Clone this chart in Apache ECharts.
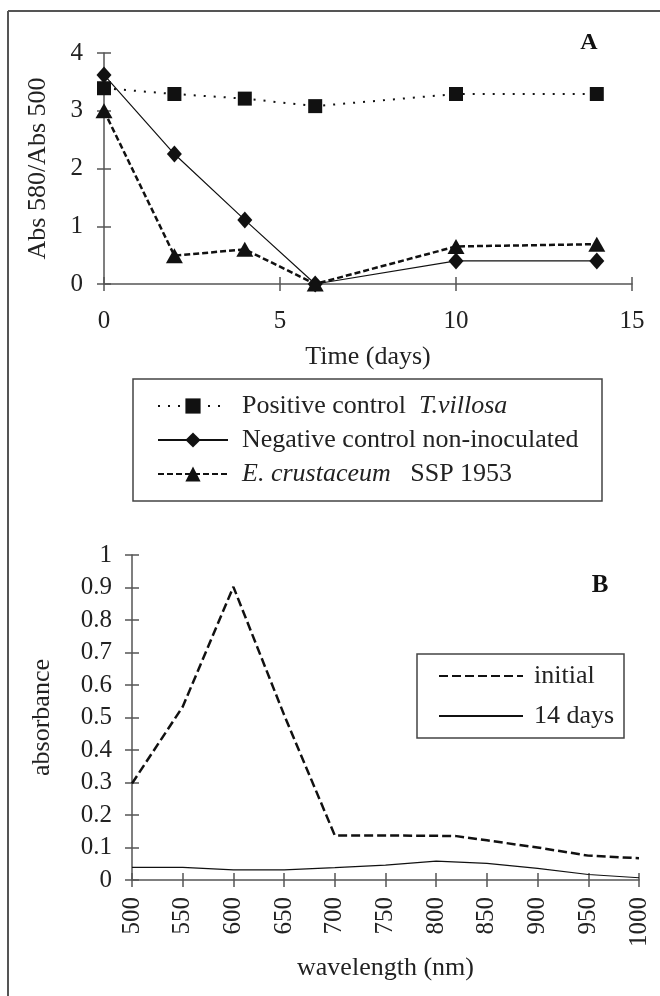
<!DOCTYPE html>
<html>
<head>
<meta charset="utf-8">
<script src="https://cdn.jsdelivr.net/npm/echarts@6/dist/echarts.min.js"></script>
<style>
  html, body { margin: 0; padding: 0; background: #fff; }
  #chart { width: 660px; height: 996px; }
</style>
</head>
<body>
<div id="chart"></div>
<script>
  // panel A: ratio over time
  const days = [0, 2, 4, 6, 10, 14]
  const positiveCtrl = [3.39, 3.29, 3.21, 3.08, 3.29, 3.29]
  const negativeCtrl = [3.62, 2.25, 1.11, 0, 0.40, 0.40]
  const crustaceum = [3.0, 0.49, 0.6, 0, 0.65, 0.69]
  const dayTicks = { min: 0, max: 15, interval: 5 }
  const ratioTicks = { min: 0, max: 4, interval: 1 }

  // panel B: spectra
  const wlInitial = [500, 550, 600, 650, 700, 750, 800, 820, 850, 900, 950, 1000]
  const absInitial = [0.297, 0.533, 0.902, 0.508, 0.137, 0.137, 0.136, 0.135, 0.122, 0.10, 0.075, 0.067]
  const wl14 = [500, 550, 600, 650, 700, 750, 800, 850, 900, 950, 1000]
  const abs14 = [0.039, 0.039, 0.031, 0.031, 0.038, 0.046, 0.058, 0.051, 0.036, 0.017, 0.007]
  const wlTicks = { min: 500, max: 1000, interval: 50 }
  const absTicks = { min: 0, max: 1, interval: 0.1 }

  const FONT = "'Liberation Serif', 'DejaVu Serif', serif"
  const AX = '#555'
  const INK = '#111'

  function axisPair(type, gridIndex, ticks, extra) {
    // main axis with outside ticks + overlay with inside ticks => crossing ticks
    const main = Object.assign({
      type: 'value', gridIndex: gridIndex, min: ticks.min, max: ticks.max, interval: ticks.interval,
      axisLine: {show: true, onZero: false, lineStyle: {color: AX, width: 1.5}},
      axisTick: {show: true, inside: false, length: 7, lineStyle: {color: AX, width: 1.5}},
      splitLine: {show: false}
    }, extra)
    const overlay = {
      type: 'value', gridIndex: gridIndex, min: ticks.min, max: ticks.max, interval: ticks.interval,
      position: type === 'x' ? 'bottom' : 'left',
      axisLine: {show: false, onZero: false},
      axisTick: {show: true, inside: true, length: 7, lineStyle: {color: AX, width: 1.5}},
      splitLine: {show: false},
      axisLabel: {show: false}
    }
    return [main, overlay]
  }

  const nameStyle = {color: '#222', fontFamily: FONT, fontSize: 26}
  const plain = v => String(Math.round(v * 10) / 10)

  const xA = axisPair('x', 0, dayTicks, {
    position: 'bottom', name: 'Time (days)', nameLocation: 'middle', nameGap: 60, nameTextStyle: nameStyle,
    axisLabel: {color: '#222', fontFamily: FONT, fontSize: 25, margin: 25, formatter: plain}
  })
  const yA = axisPair('y', 0, ratioTicks, {
    position: 'left', name: 'Abs 580/Abs 500', nameLocation: 'middle', nameGap: 53, nameTextStyle: nameStyle,
    axisLabel: {color: '#222', fontFamily: FONT, fontSize: 25, margin: 21, formatter: plain}
  })
  const xB = axisPair('x', 1, wlTicks, {
    position: 'bottom', name: 'wavelength (nm)', nameLocation: 'middle', nameGap: 75, nameTextStyle: nameStyle,
    axisLabel: {color: '#222', fontFamily: FONT, fontSize: 25, margin: 17, rotate: 90, formatter: plain}
  })
  const yB = axisPair('y', 1, absTicks, {
    position: 'left', name: 'absorbance', nameLocation: 'middle', nameGap: 77, nameTextStyle: nameStyle,
    axisLabel: {color: '#222', fontFamily: FONT, fontSize: 25, margin: 20, formatter: plain}
  })

  const legendRich = {
    n: {fontFamily: FONT, fontSize: 26, color: '#222'},
    i: {fontFamily: FONT, fontSize: 26, color: '#222', fontStyle: 'italic'}
  }
  const legendLabels = {
    'Positive control T.villosa': '{n|Positive control  }{i|T.villosa}',
    'Negative control non-inoculated': '{n|Negative control non-inoculated}',
    'E. crustaceum SSP 1953': '{i|E. crustaceum}{n|   SSP 1953}',
    'initial': '{n|initial}',
    '14 days': '{n|14 days}'
  }

  const option = {
    animation: false,
    backgroundColor: '#fff',
    grid: [
      {left: 104, top: 53, width: 528, height: 231, outerBoundsMode: 'none'},
      {left: 132, top: 555, width: 507, height: 325, outerBoundsMode: 'none'}
    ],
    xAxis: [xA[0], xA[1], xB[0], xB[1]],
    yAxis: [yA[0], yA[1], yB[0], yB[1]],
    legend: [
      {
        orient: 'vertical', left: 152, top: 388, itemWidth: 70, itemHeight: 19, itemGap: 8,
        data: ['Positive control T.villosa', 'Negative control non-inoculated', 'E. crustaceum SSP 1953'],
        formatter: name => legendLabels[name],
        textStyle: {rich: legendRich, padding: [0, 0, 0, 9]}
      },
      {
        orient: 'vertical', left: 433, top: 658, itemWidth: 84, itemHeight: 14, itemGap: 14,
        data: ['initial', '14 days'],
        formatter: name => legendLabels[name],
        itemStyle: {color: 'rgba(0,0,0,0)', borderWidth: 0},
        textStyle: {rich: legendRich, padding: [0, 0, 0, 6]}
      }
    ],
    series: [
      {
        name: 'Positive control T.villosa', type: 'line', xAxisIndex: 0, yAxisIndex: 0,
        data: days.map((d, i) => [d, positiveCtrl[i]]),
        symbol: 'rect', symbolSize: 14,
        itemStyle: {color: INK},
        lineStyle: {color: INK, width: 2, type: [2, 8]}
      },
      {
        name: 'Negative control non-inoculated', type: 'line', xAxisIndex: 0, yAxisIndex: 0,
        data: days.map((d, i) => [d, negativeCtrl[i]]),
        symbol: 'diamond', symbolSize: [15, 17],
        itemStyle: {color: INK},
        lineStyle: {color: INK, width: 1.2, type: 'solid'}
      },
      {
        name: 'E. crustaceum SSP 1953', type: 'line', xAxisIndex: 0, yAxisIndex: 0,
        data: days.map((d, i) => [d, crustaceum[i]]),
        symbol: 'triangle', symbolSize: [17, 15],
        itemStyle: {color: INK},
        lineStyle: {color: INK, width: 2.5, type: [6, 3]}
      },
      {
        name: 'initial', type: 'line', xAxisIndex: 2, yAxisIndex: 2,
        data: wlInitial.map((w, i) => [w, absInitial[i]]),
        symbol: 'none', itemStyle: {color: INK},
        lineStyle: {color: INK, width: 2.5, type: [9, 4]}
      },
      {
        name: '14 days', type: 'line', xAxisIndex: 2, yAxisIndex: 2,
        data: wl14.map((w, i) => [w, abs14[i]]),
        symbol: 'none', itemStyle: {color: INK},
        lineStyle: {color: INK, width: 1.2, type: 'solid'}
      }
    ],
    graphic: [
      {type: 'line', shape: {x1: 8, y1: 11, x2: 660, y2: 11}, style: {stroke: AX, lineWidth: 2}},
      {type: 'line', shape: {x1: 8, y1: 11, x2: 8, y2: 996}, style: {stroke: AX, lineWidth: 2}},
      {type: 'rect', shape: {x: 133, y: 379, width: 469, height: 122}, style: {fill: null, stroke: '#444', lineWidth: 1.5}},
      {type: 'rect', shape: {x: 417, y: 654, width: 207, height: 84}, style: {fill: null, stroke: '#444', lineWidth: 1.5}},
      {type: 'text', x: 589, y: 43, style: {text: 'A', font: "bold 24px 'Liberation Serif'", fill: '#111', textAlign: 'center', textVerticalAlign: 'middle'}},
      {type: 'text', x: 600, y: 586, style: {text: 'B', font: "bold 25px 'Liberation Serif'", fill: '#111', textAlign: 'center', textVerticalAlign: 'middle'}}
    ]
  }

  const myChart = echarts.init(document.getElementById('chart'))
  myChart.setOption(option)
</script>
</body>
</html>
